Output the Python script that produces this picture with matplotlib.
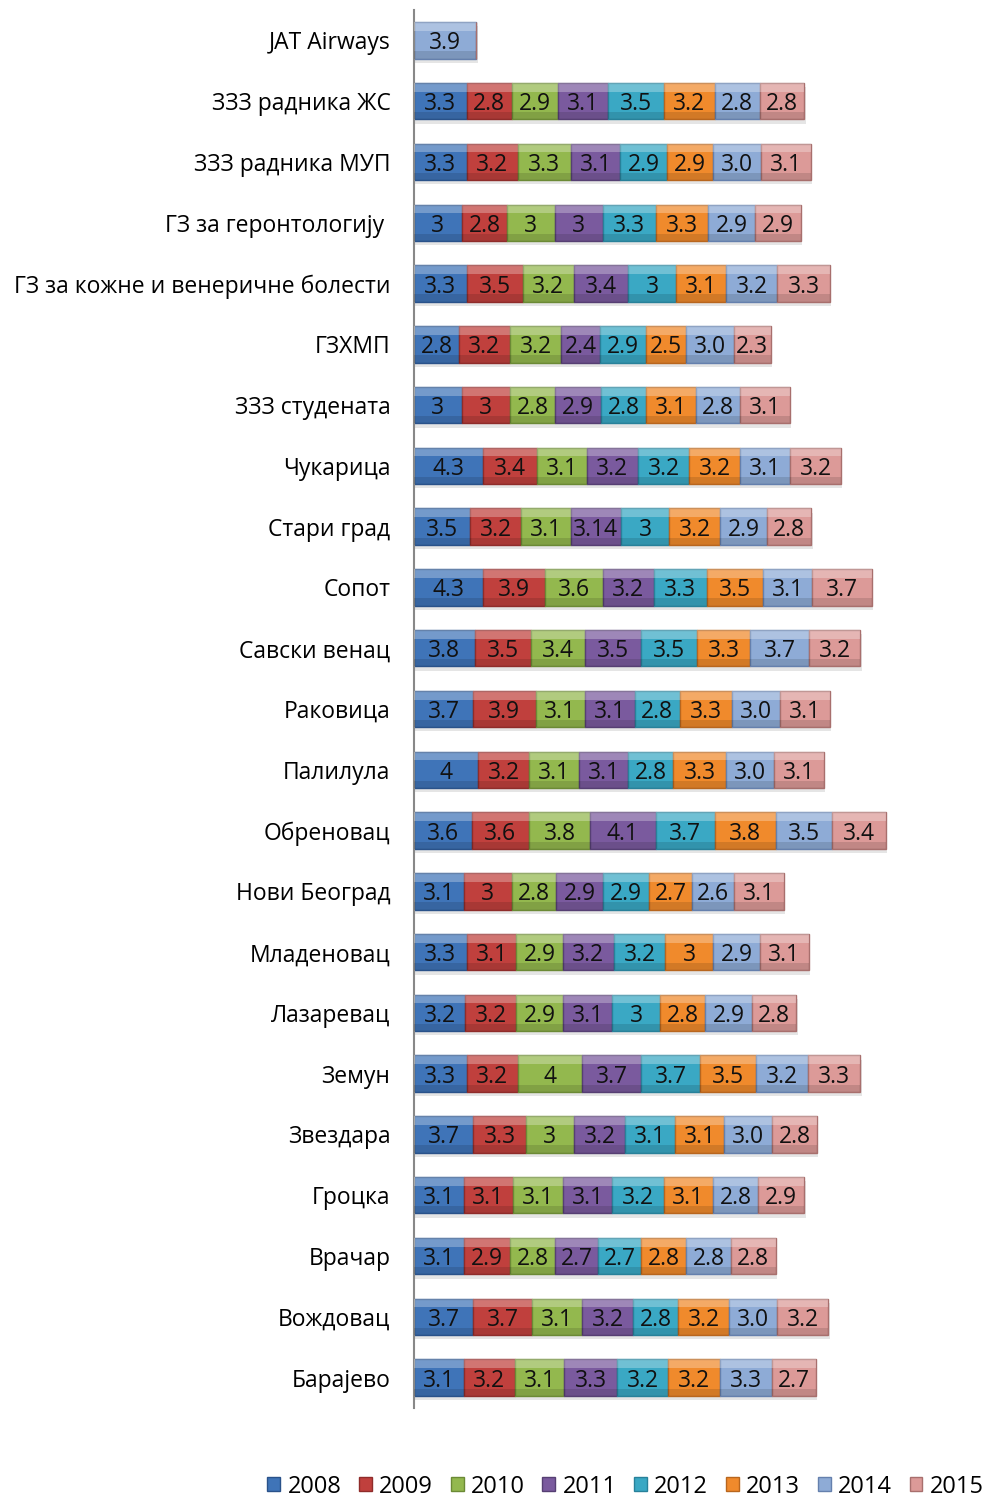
import numpy as np
import matplotlib
matplotlib.use("Agg")
import matplotlib.pyplot as plt

plt.rcParams['font.family'] = ['Open Sans', 'DejaVu Sans']

# Categories from top to bottom as shown in the chart
categories = [
    "JAT Airways", "ЗЗЗ радника ЖС", "ЗЗЗ радника МУП", "ГЗ за геронтологију ",
    "ГЗ за кожне и венеричне болести", "ГЗХМП", "ЗЗЗ студената", "Чукарица",
    "Стари град", "Сопот", "Савски венац", "Раковица", "Палилула", "Обреновац",
    "Нови Београд", "Младеновац", "Лазаревац", "Земун", "Звездара", "Гроцка",
    "Врачар", "Вождовац", "Барајево",
]
years = ["2008", "2009", "2010", "2011", "2012", "2013", "2014", "2015"]

nan = np.nan
v2008 = [nan, 3.3, 3.3, 3, 3.3, 2.8, 3, 4.3, 3.5, 4.3, 3.8, 3.7, 4, 3.6, 3.1, 3.3, 3.2, 3.3, 3.7, 3.1, 3.1, 3.7, 3.1]
v2009 = [nan, 2.8, 3.2, 2.8, 3.5, 3.2, 3, 3.4, 3.2, 3.9, 3.5, 3.9, 3.2, 3.6, 3, 3.1, 3.2, 3.2, 3.3, 3.1, 2.9, 3.7, 3.2]
v2010 = [nan, 2.9, 3.3, 3, 3.2, 3.2, 2.8, 3.1, 3.1, 3.6, 3.4, 3.1, 3.1, 3.8, 2.8, 2.9, 2.9, 4, 3, 3.1, 2.8, 3.1, 3.1]
v2011 = [nan, 3.1, 3.1, 3, 3.4, 2.4, 2.9, 3.2, 3.14, 3.2, 3.5, 3.1, 3.1, 4.1, 2.9, 3.2, 3.1, 3.7, 3.2, 3.1, 2.7, 3.2, 3.3]
v2012 = [nan, 3.5, 2.9, 3.3, 3, 2.9, 2.8, 3.2, 3, 3.3, 3.5, 2.8, 2.8, 3.7, 2.9, 3.2, 3, 3.7, 3.1, 3.2, 2.7, 2.8, 3.2]
v2013 = [nan, 3.2, 2.9, 3.3, 3.1, 2.5, 3.1, 3.2, 3.2, 3.5, 3.3, 3.3, 3.3, 3.8, 2.7, 3, 2.8, 3.5, 3.1, 3.1, 2.8, 3.2, 3.2]
v2014 = [3.9, 2.8, 3.0, 2.9, 3.2, 3.0, 2.8, 3.1, 2.9, 3.1, 3.7, 3.0, 3.0, 3.5, 2.6, 2.9, 2.9, 3.2, 3.0, 2.8, 2.8, 3.0, 3.3]
v2015 = [nan, 2.8, 3.1, 2.9, 3.3, 2.3, 3.1, 3.2, 2.8, 3.7, 3.2, 3.1, 3.1, 3.4, 3.1, 3.1, 2.8, 3.3, 2.8, 2.9, 2.8, 3.2, 2.7]

series = [v2008, v2009, v2010, v2011, v2012, v2013, v2014, v2015]
colors = ["#3f74b8", "#c0403d", "#93b84e", "#7a5a9e", "#3aa8c4", "#f08a2c", "#8eabd6", "#dc9a98"]
edges = ["#2a528a", "#8f2c2a", "#6b8a35", "#563f73", "#28819a", "#b8661e", "#6580ad", "#a86f6d"]

fig = plt.figure(figsize=(9.89, 15.01), dpi=100)
ax = fig.add_axes([414 / 989, 1 - 1408 / 1501, 570 / 989, 1398 / 1501])

y = np.arange(len(categories))[::-1]
left = np.zeros(len(categories))
h = 0.6
for i, (yr, vals) in enumerate(zip(years, series)):
    vals = np.array(vals, dtype=float)
    w = np.nan_to_num(vals)
    # soft drop shadow
    ax.barh(y - 0.07, w, left=left + 0.08, height=h, color="#000000", alpha=0.10,
            linewidth=0, zorder=1)
    bars = ax.barh(y, w, left=left, height=h, color=colors[i], edgecolor=edges[i],
                   linewidth=1.0, label=yr, zorder=2)
    # bevel highlight on top, darker band at bottom
    ax.barh(y + h * 0.38, w, left=left, height=h * 0.24, color="white", alpha=0.28,
            linewidth=0, zorder=3)
    ax.barh(y - h * 0.40, w, left=left, height=h * 0.2, color="black", alpha=0.12,
            linewidth=0, zorder=3)
    if yr == "2014":
        labels = ["" if np.isnan(v) else f"{v:.1f}" for v in vals]
    else:
        labels = ["" if np.isnan(v) else f"{v:g}" for v in vals]
    texts = ax.bar_label(bars, labels=labels, label_type="center", fontsize=16.5,
                         color="#111111", zorder=4)
    for t in texts:
        t.set_verticalalignment("center_baseline")
    left += w

ax.set_xlim(0, 570 / 16.0)
ax.set_ylim(-0.5, len(categories) - 0.5)
ax.set_yticks(y)
ax.set_yticklabels(categories, fontsize=16.5)
ax.tick_params(axis="y", length=0, pad=17)
for t in ax.get_yticklabels():
    t.set_verticalalignment("center_baseline")
ax.set_xticks([])
for s in ["top", "right", "bottom"]:
    ax.spines[s].set_visible(False)
ax.spines["left"].set_color("#888888")
ax.spines["left"].set_linewidth(1.5)

handles, labs = ax.get_legend_handles_labels()
fig.legend(handles, labs, loc="lower right", bbox_to_anchor=(1.016, -0.0125), ncol=8,
           frameon=False, fontsize=17, handlelength=0.55, handleheight=0.55,
           handletextpad=0.3, columnspacing=0.75)

fig.savefig("out.png", dpi=100)
